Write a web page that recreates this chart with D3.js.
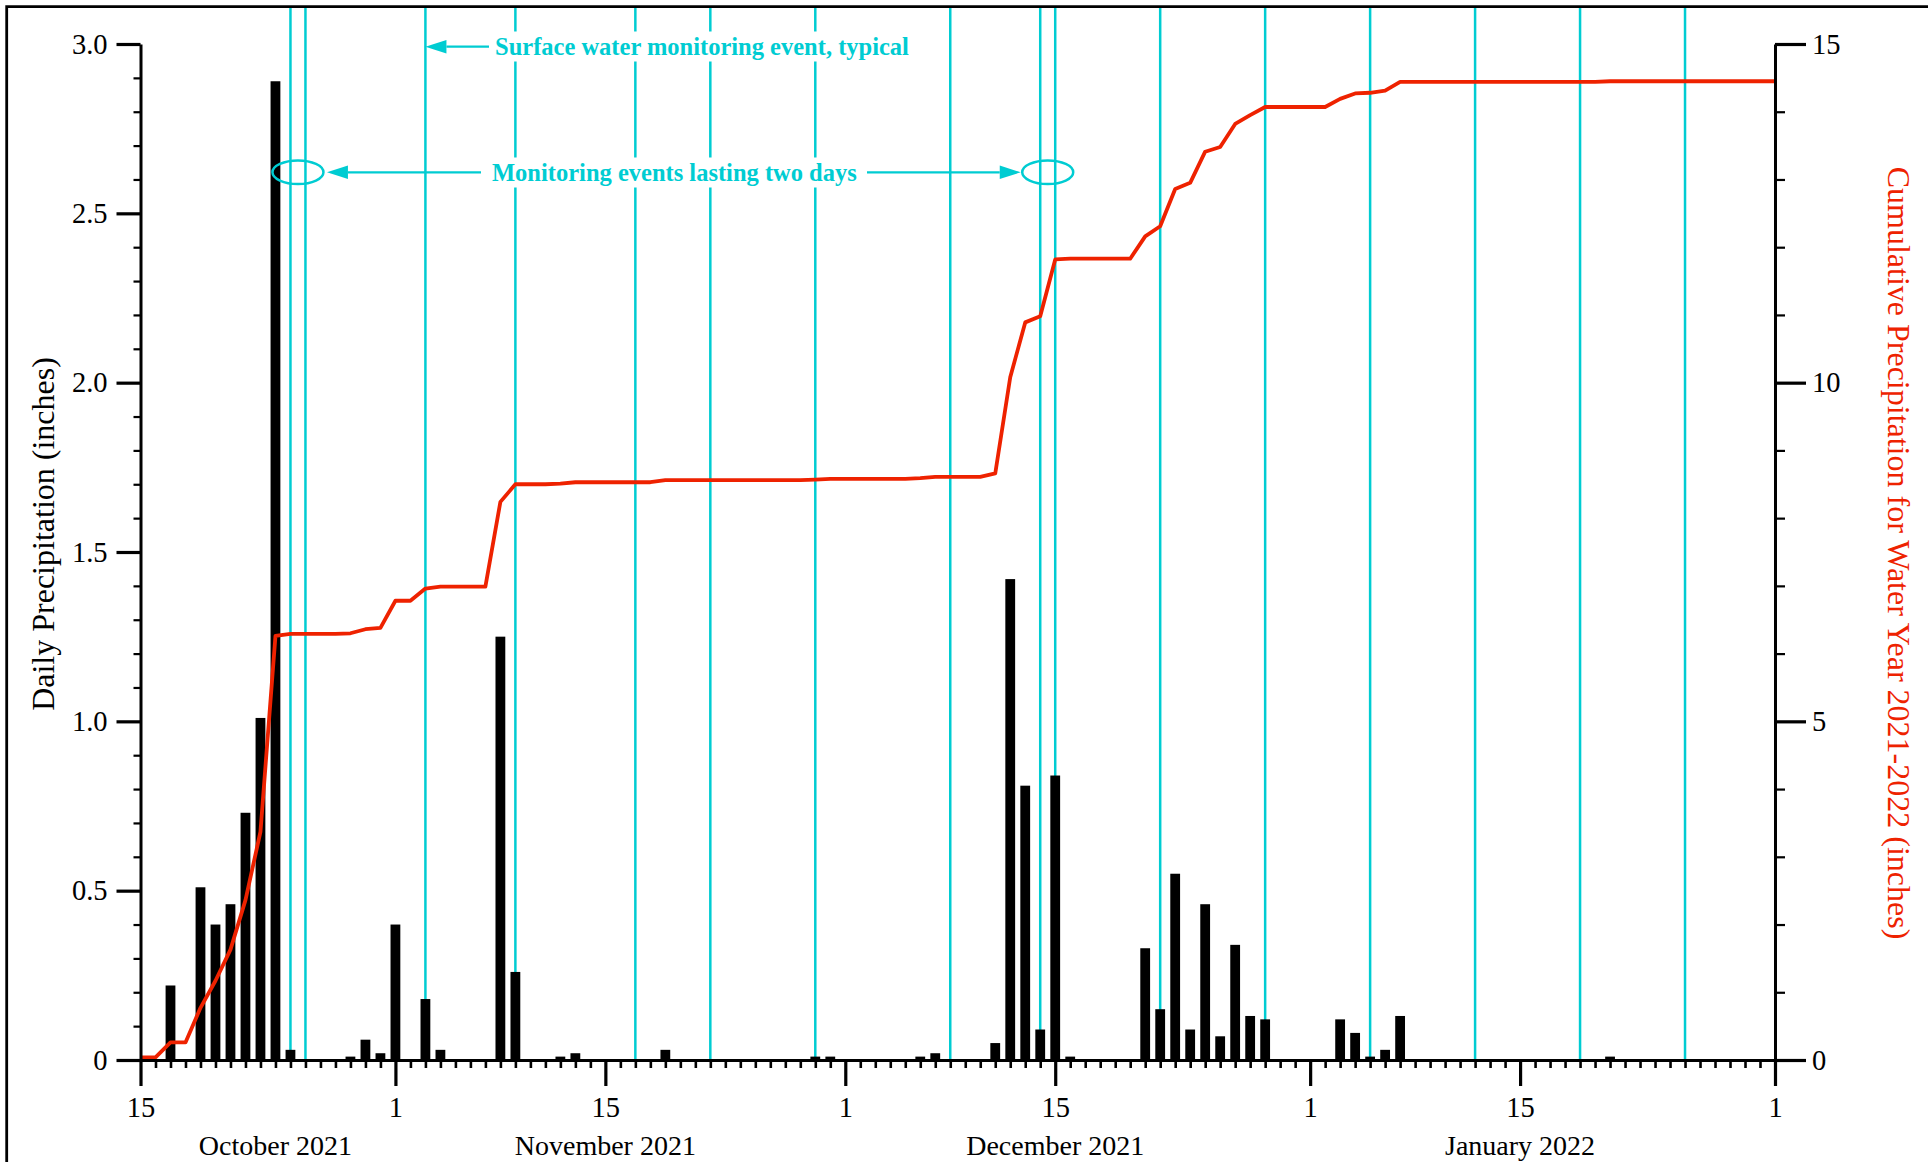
<!DOCTYPE html>
<html><head><meta charset="utf-8">
<script src="https://cdn.jsdelivr.net/npm/d3@7"></script>
<style>html,body{margin:0;padding:0;background:#fff;} svg{display:block;}</style>
</head><body>
<svg id="chart" width="1928" height="1162"></svg>
<script>
// ---------------- data ----------------
const periodStart = "2021-10-15";
const periodEnd = "2022-02-01";
const priorCumulative = 0.04; // water-year total already fallen before Oct 15
const rainDates = [
  "2021-10-17","2021-10-19","2021-10-20","2021-10-21","2021-10-22","2021-10-23","2021-10-24","2021-10-25",
  "2021-10-29","2021-10-30","2021-10-31","2021-11-01","2021-11-03","2021-11-04","2021-11-08","2021-11-09",
  "2021-11-12","2021-11-13","2021-11-19","2021-11-29","2021-11-30","2021-12-06","2021-12-07","2021-12-11",
  "2021-12-12","2021-12-13","2021-12-14","2021-12-15","2021-12-16","2021-12-21","2021-12-22","2021-12-23",
  "2021-12-24","2021-12-25","2021-12-26","2021-12-27","2021-12-28","2021-12-29","2022-01-03","2022-01-04",
  "2022-01-05","2022-01-06","2022-01-07","2022-01-21"
];
const rainInches = [
  0.22, 0.51, 0.40, 0.46, 0.73, 1.01, 2.89, 0.03,
  0.01, 0.06, 0.02, 0.40, 0.18, 0.03, 1.25, 0.26,
  0.01, 0.02, 0.03, 0.01, 0.01, 0.01, 0.02, 0.05,
  1.42, 0.81, 0.09, 0.84, 0.01, 0.33, 0.15, 0.55,
  0.09, 0.46, 0.07, 0.34, 0.13, 0.12, 0.12, 0.08,
  0.01, 0.03, 0.13, 0.01
];
const monitoringDates = [
  "2021-10-25","2021-10-26","2021-11-03","2021-11-09","2021-11-17","2021-11-22","2021-11-29","2021-12-08",
  "2021-12-14","2021-12-15","2021-12-22","2021-12-29","2022-01-05","2022-01-12","2022-01-19","2022-01-26"
];
const twoDayEvents = [["2021-10-25","2021-10-26"],["2021-12-14","2021-12-15"]];
const leftMajorTicks = [0, 0.5, 1.0, 1.5, 2.0, 2.5, 3.0];
const leftMajorLabels = ["0", "0.5", "1.0", "1.5", "2.0", "2.5", "3.0"];
const rightMajorTicks = [0, 5, 10, 15];
const monthLabels = ["October 2021", "November 2021", "December 2021", "January 2022"];
const monthLabelDates = ["2021-10-24", "2021-11-15", "2021-12-15", "2022-01-15"];
const leftTitle = "Daily Precipitation (inches)";
const rightTitle = "Cumulative Precipitation for Water Year 2021-2022 (inches)";
const noteTypical = "Surface water monitoring event, typical";
const noteTwoDay = "Monitoring events lasting two days";

// ---------------- setup ----------------
const parse = d3.utcParse("%Y-%m-%d");
const CYAN = "#00CCD2", RED = "#EE2200", FONT = "Liberation Serif, Times New Roman, serif";
const svg = d3.select("#chart");
const X0 = 140.5, X1 = 1775, Y0 = 1060, Y1 = 44;

const x = d3.scaleUtc().domain([parse(periodStart), parse(periodEnd)]).range([X0, X1]);
const yL = d3.scaleLinear().domain([0, 3]).range([Y0, Y1]);
const yR = d3.scaleLinear().domain([0, 15]).range([Y0, Y1]);

const rainMap = new Map(rainDates.map((d, i) => [d, rainInches[i]]));
const fmt = d3.utcFormat("%Y-%m-%d");
const days = d3.utcDay.range(parse(periodStart), d3.utcDay.offset(parse(periodEnd), 1));
const daily = days.map(d => rainMap.get(fmt(d)) || 0);
const cumul = Array.from(d3.cumsum(daily), v => v + priorCumulative);

// frame
svg.append("path").attr("d", "M6.7,1162V6.7H1928").attr("fill", "none")
  .attr("stroke", "#000").attr("stroke-width", 2.8);

// monitoring lines
svg.append("g").selectAll("line").data(monitoringDates).join("line")
  .attr("x1", d => x(parse(d))).attr("x2", d => x(parse(d)))
  .attr("y1", 8).attr("y2", Y0)
  .attr("stroke", CYAN).attr("stroke-width", 2.5);

// bars
const barW = 9.8;
svg.append("g").selectAll("rect").data(rainDates).join("rect")
  .attr("x", d => x(parse(d)) - barW / 2)
  .attr("width", barW)
  .attr("y", (d, i) => yL(rainInches[i]))
  .attr("height", (d, i) => Y0 - yL(rainInches[i]))
  .attr("fill", "#000");

// cumulative line
svg.append("path").datum(days)
  .attr("fill", "none").attr("stroke", RED).attr("stroke-width", 3.8)
  .attr("stroke-linejoin", "round")
  .attr("d", d3.line().x(d => x(d)).y((d, i) => yR(cumul[i])));

// ---------------- axes ----------------
function styleAxis(g, sw) {
  g.attr("font-family", FONT).attr("font-size", 28.5);
  g.selectAll(".domain").attr("stroke-width", 3);
  g.selectAll(".tick line").attr("stroke-width", sw);
  g.selectAll(".tick text").attr("fill", "#000");
}
// left
const leftMinor = d3.range(1, 30).filter(i => i % 5 !== 0).map(i => i / 10);
svg.append("g").attr("transform", `translate(${X0},0)`)
  .call(d3.axisLeft(yL).tickValues(leftMinor).tickSize(7).tickSizeOuter(0).tickFormat(""))
  .call(g => { styleAxis(g, 2.2); g.select(".domain").remove(); });
svg.append("g").attr("transform", `translate(${X0},0)`)
  .call(d3.axisLeft(yL).tickValues(leftMajorTicks).tickSize(24).tickSizeOuter(0).tickPadding(9)
    .tickFormat((d, i) => leftMajorLabels[i]))
  .call(g => styleAxis(g, 3.2));
// right
const rightMinor = d3.range(1, 15).filter(v => v % 5 !== 0);
svg.append("g").attr("transform", `translate(${X1},0)`)
  .call(d3.axisRight(yR).tickValues(rightMinor).tickSize(10).tickSizeOuter(0).tickFormat(""))
  .call(g => { styleAxis(g, 2.2); g.select(".domain").remove(); });
svg.append("g").attr("transform", `translate(${X1},0)`)
  .call(d3.axisRight(yR).tickValues(rightMajorTicks).tickSize(31).tickSizeOuter(0).tickPadding(6)
    .tickFormat(d3.format("d")))
  .call(g => styleAxis(g, 3.2));
// bottom
const majorDays = days.filter(d => d.getUTCDate() === 1 || d.getUTCDate() === 15);
const minorDays = days.filter(d => !(d.getUTCDate() === 1 || d.getUTCDate() === 15));
svg.append("g").attr("transform", `translate(0,${Y0})`)
  .call(d3.axisBottom(x).tickValues(minorDays).tickSize(8).tickSizeOuter(0).tickFormat(""))
  .call(g => { styleAxis(g, 2.6); g.select(".domain").remove(); });
svg.append("g").attr("transform", `translate(0,${Y0})`)
  .call(d3.axisBottom(x).tickValues(majorDays).tickSize(26).tickSizeOuter(0).tickPadding(10.5)
    .tickFormat(d3.utcFormat("%-d")))
  .call(g => styleAxis(g, 3.2));

// month labels
svg.append("g").selectAll("text").data(monthLabels).join("text")
  .attr("x", (d, i) => x(parse(monthLabelDates[i])))
  .attr("y", 1155)
  .attr("text-anchor", "middle")
  .attr("font-family", FONT).attr("font-size", 28)
  .text(d => d);

// axis titles
svg.append("text").attr("transform", "translate(54,534) rotate(-90)")
  .attr("text-anchor", "middle").attr("font-family", FONT).attr("font-size", 32)
  .text(leftTitle);
svg.append("text").attr("transform", "translate(1888,553) rotate(90)")
  .attr("text-anchor", "middle").attr("font-family", FONT).attr("font-size", 32)
  .attr("fill", RED).text(rightTitle);

// ---------------- annotations ----------------
function note(txt, tx, ty) {
  const g = svg.append("g");
  const rect = g.append("rect").attr("fill", "#fff");
  const t = g.append("text").attr("x", tx).attr("y", ty)
    .attr("font-family", FONT).attr("font-size", 24.5).attr("font-weight", "bold")
    .attr("fill", CYAN).text(txt);
  const b = t.node().getBBox();
  rect.attr("x", b.x - 5).attr("y", b.y - 1.5).attr("width", b.width + 10).attr("height", b.height + 3);
}
function arrow(xFrom, xTo, y) {
  const dir = Math.sign(xTo - xFrom), headL = 21, headH = 6.8;
  const base = xTo - dir * headL;
  svg.append("line").attr("x1", xFrom).attr("x2", base).attr("y1", y).attr("y2", y)
    .attr("stroke", CYAN).attr("stroke-width", 2.2);
  svg.append("path").attr("d", `M${xTo},${y}L${base},${y - headH}L${base},${y + headH}Z`).attr("fill", CYAN);
}
note(noteTypical, 495, 55);
arrow(489, x(parse("2021-11-03")), 46.7);

note(noteTwoDay, 492, 181);
const yE = 172.3;
twoDayEvents.forEach(([a, b]) => {
  const cx = (x(parse(a)) + x(parse(b))) / 2;
  svg.append("ellipse").attr("cx", cx).attr("cy", yE).attr("rx", 25.5).attr("ry", 11.8)
    .attr("fill", "none").attr("stroke", CYAN).attr("stroke-width", 2.5);
});
const e1 = (x(parse(twoDayEvents[0][0])) + x(parse(twoDayEvents[0][1]))) / 2;
const e2 = (x(parse(twoDayEvents[1][0])) + x(parse(twoDayEvents[1][1]))) / 2;
arrow(481, e1 + 29, yE);
arrow(867, e2 - 27, yE);
</script>
</body></html>
